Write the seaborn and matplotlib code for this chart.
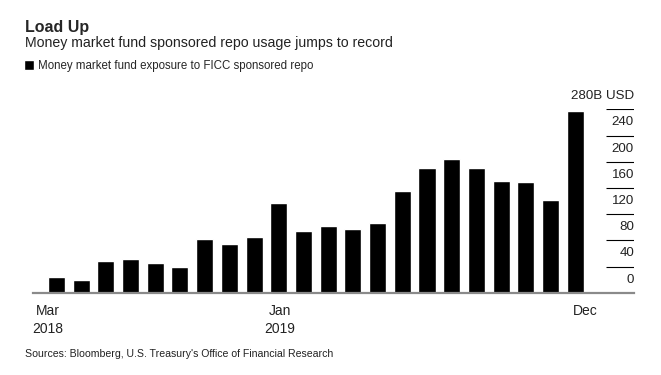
import numpy as np
import matplotlib.pyplot as plt
import seaborn as sns

# monthly exposure, Mar 2018 .. Dec 2019 (billions USD)
months = ["Mar 2018", "Apr 2018", "May 2018", "Jun 2018", "Jul 2018", "Aug 2018",
          "Sep 2018", "Oct 2018", "Nov 2018", "Dec 2018", "Jan 2019", "Feb 2019",
          "Mar 2019", "Apr 2019", "May 2019", "Jun 2019", "Jul 2019", "Aug 2019",
          "Sep 2019", "Oct 2019", "Nov 2019", "Dec 2019"]
exposure = [24, 19, 49, 51, 45, 39, 82, 74, 85, 137, 94, 102,
            97, 106, 155, 190, 204, 190, 170, 169, 141, 278]

x_tick_pos = [-0.35, 9.05, 21.4]
x_tick_labels = ["Mar\n2018", "Jan\n2019", "Dec"]
y_ticks = [0, 40, 80, 120, 160, 200, 240, 280]

sns.set_style("white")
plt.rcParams['font.family'] = ['Liberation Sans', 'DejaVu Sans']

fig = plt.figure(figsize=(6.61, 3.75), dpi=100)
ax = fig.add_axes([33 / 661, 1 - 292.7 / 375, 601 / 661, (292.7 - 109.3) / 375])

sns.barplot(x=months, y=exposure, color="black", width=0.69, saturation=1,
            label="Money market fund exposure to FICC sponsored repo", ax=ax)
ax.set_xlim(-0.95, 23.38)
ax.set_ylim(0, 280)

for s in ["top", "right", "left"]:
    ax.spines[s].set_visible(False)
ax.spines["bottom"].set_color("#8a8a8a")
ax.spines["bottom"].set_linewidth(1.6)

ax.set_yticks([])
ax.set_xticks(x_tick_pos)
ax.set_xticklabels(x_tick_labels, fontsize=10, color="#222222", linespacing=1.35)
ax.tick_params(axis="x", length=5, width=1, color="#555555", pad=3)
ax.set_xlabel("")
ax.set_ylabel("")

# short gridlines on the right, labels sit above each line
ytr = ax.get_yaxis_transform()
for t in y_ticks:
    if t > 0:
        ax.hlines(t, 0.953, 1.0, transform=ytr, color="black", lw=0.8)
    lab = f"{t}B USD" if t == y_ticks[-1] else str(t)
    ax.text(1.0, t + 20, lab, transform=ytr, ha="right", va="center",
            fontsize=9.6, color="#222222")

fig.text(25 / 661, 1 - 32 / 375, "Load Up", fontsize=11.5, fontweight="bold", va="baseline")
fig.text(25 / 661, 1 - 47 / 375, "Money market fund sponsored repo usage jumps to record",
         fontsize=10.2, va="baseline", color="#222222")
ax.legend(loc="lower left", bbox_to_anchor=(24 / 661, 1 - 72 / 375), bbox_transform=fig.transFigure,
          frameon=False, fontsize=8.3, handlelength=0.85, handleheight=0.85, handletextpad=0.4,
          borderpad=0, borderaxespad=0)
fig.text(25 / 661, 1 - 357 / 375, "Sources: Bloomberg, U.S. Treasury's Office of Financial Research",
         fontsize=7.6, va="baseline", color="#222222")

fig.savefig("out.png", dpi=100)
